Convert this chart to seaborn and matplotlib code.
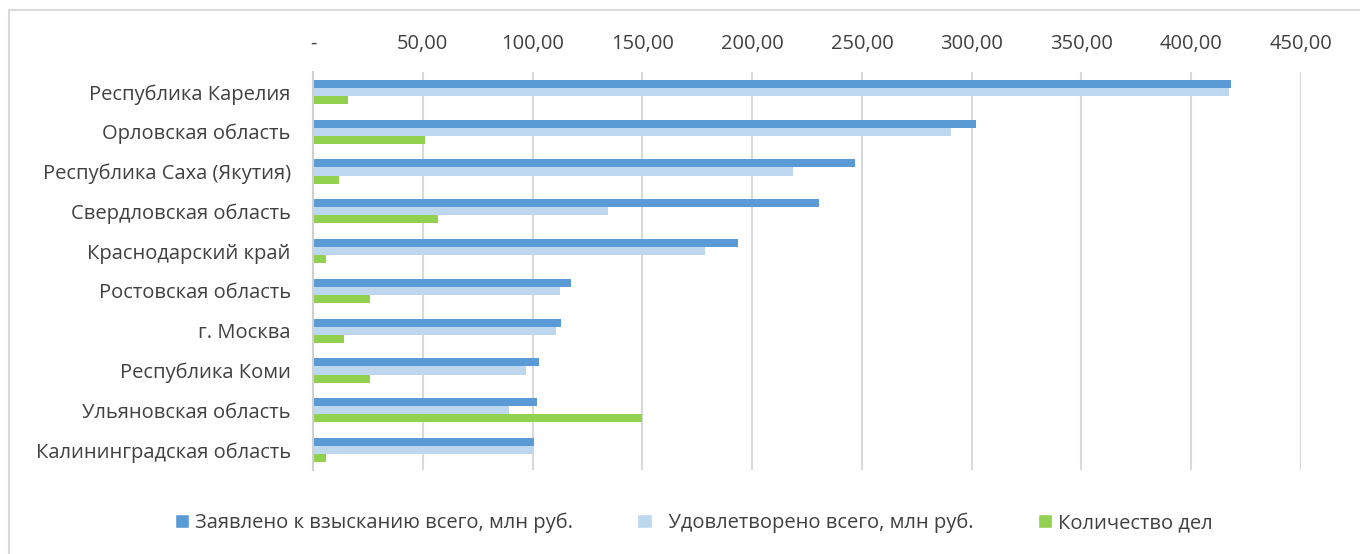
import pandas as pd
import matplotlib.pyplot as plt
import seaborn as sns
from matplotlib.patches import Rectangle, Patch
from matplotlib.ticker import FuncFormatter

regions = ['Республика Карелия', 'Орловская область', 'Республика Саха (Якутия)',
           'Свердловская область', 'Краснодарский край', 'Ростовская область',
           'г. Москва', 'Республика Коми', 'Ульяновская область',
           'Калининградская область']
claimed = [418, 302, 246.7, 230.4, 193.5, 117.5, 113.1, 102.8, 102.2, 100.7]
satisfied = [417.3, 290.4, 218.4, 134.5, 178.4, 112.4, 110.7, 97.2, 89.3, 100.7]
cases = [16, 51, 12, 57, 6, 26, 14, 26, 150, 6]
series = ['Заявлено к взысканию всего, млн руб.', 'Удовлетворено всего, млн руб.', 'Количество дел']
colors = ['#5B9BD5', '#BDD7EE', '#92D050']

df = pd.DataFrame({'region': regions, series[0]: claimed, series[1]: satisfied, series[2]: cases})
long = df.melt(id_vars='region', var_name='series', value_name='value')

sns.set_style('white')
plt.rcParams['font.family'] = ['Open Sans', 'DejaVu Sans']
text_color = '#404040'
fs = 14.5

fig = plt.figure(figsize=(13.6, 5.54), dpi=100)
ax = fig.add_axes([313 / 1360, 1 - 470 / 554, 988 / 1360, 398 / 554])

sns.barplot(data=long, y='region', x='value', hue='series', hue_order=series,
            palette=colors, width=0.61, orient='h', ax=ax, legend=False,
            saturation=1, linewidth=0)

ax.set_xlim(0, 450)
ax.set_xticks(range(0, 451, 50))
ax.xaxis.set_major_formatter(FuncFormatter(lambda v, p: '-' if v == 0 else f'{v:.2f}'.replace('.', ',')))
ax.xaxis.tick_top()
ax.tick_params(axis='x', length=0, pad=13, labelsize=fs, labelcolor=text_color)
ax.tick_params(axis='y', length=0, pad=16, labelsize=fs, labelcolor=text_color)
ax.set_xlabel('')
ax.set_ylabel('')
ax.grid(axis='x', color='#D9D9D9', linewidth=1.5)
ax.set_axisbelow(True)
for side in ['top', 'right', 'bottom']:
    ax.spines[side].set_visible(False)
ax.spines['left'].set_color('#D0D0D0')
ax.spines['left'].set_linewidth(1.5)

handles = [Patch(facecolor=c) for c in colors]
labels = [series[0], '  ' + series[1], series[2]]
fig.legend(handles, labels, loc='center', bbox_to_anchor=(0.51, 1 - 523 / 554), ncol=3,
           frameon=False, fontsize=fs, labelcolor=text_color, handlelength=0.7,
           handleheight=0.7, handletextpad=0.3, columnspacing=3.2)

fig.patches.append(Rectangle((9 / 1360, -0.1), 1.2, 1 - 10 / 554 + 0.1, transform=fig.transFigure,
                             fill=False, edgecolor='#D9D9D9', linewidth=1.5))

fig.savefig('out.png', dpi=100)
